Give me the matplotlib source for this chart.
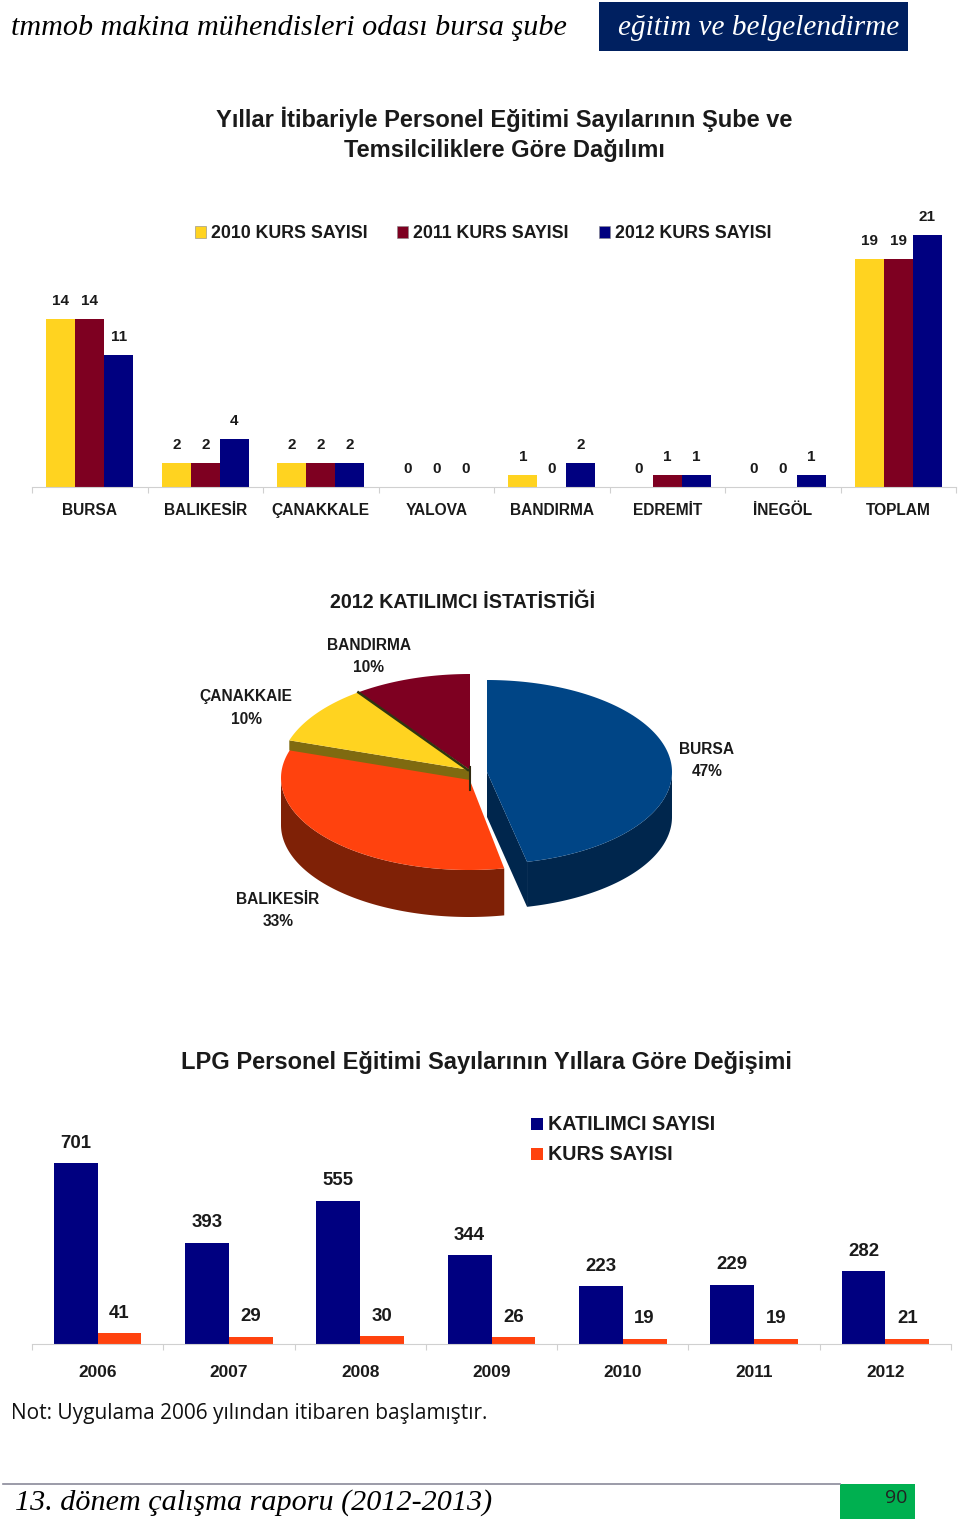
import matplotlib
matplotlib.use("Agg")
import matplotlib.pyplot as plt
import numpy as np

plt.rcParams['font.family'] = ['Liberation Sans', 'DejaVu Sans']

W, H = 960, 1526

# first chart
cities = ["BURSA", "BALIKESİR", "ÇANAKKALE", "YALOVA", "BANDIRMA", "EDREMİT", "İNEGÖL", "TOPLAM"]
kurs_2010 = [14, 2, 2, 0, 1, 0, 0, 19]
kurs_2011 = [14, 2, 2, 0, 0, 1, 0, 19]
kurs_2012 = [11, 4, 2, 0, 2, 1, 1, 21]
legend1 = ["2010 KURS SAYISI", "2011 KURS SAYISI", "2012 KURS SAYISI"]

# pie
pie_names = ["BURSA", "BALIKESİR", "ÇANAKKAIE", "BANDIRMA"]
pie_values = [47, 33, 10, 10]

# last chart
years = ["2006", "2007", "2008", "2009", "2010", "2011", "2012"]
katilimci = [701, 393, 555, 344, 223, 229, 282]
kurs = [41, 29, 30, 26, 19, 19, 21]

YELLOW = "#FFD320"
MAROON = "#7E0021"
NAVY = "#000080"
ORANGE = "#FF420E"
BLUE = "#004586"


def make_axes(left, right, top, bottom):
    # axes from pixel positions of the page
    return fig.add_axes([left / W, 1 - bottom / H, (right - left) / W, (bottom - top) / H])


def style_bar_axes(ax, labels, size, pad):
    n = len(labels)
    ax.set_xlim(-0.5, n - 0.5)
    ax.set_xticks(np.arange(n), labels, fontsize=size, fontweight="bold", color="#1a1a1a")
    ax.tick_params(axis="x", which="major", length=0, pad=pad)
    ax.set_xticks(np.arange(n + 1) - 0.5, minor=True)
    ax.tick_params(axis="x", which="minor", length=4, width=0.8, color="#d0d0d0")
    ax.set_yticks([])
    ax.patch.set_alpha(0)
    for s in ["top", "left", "right"]:
        ax.spines[s].set_visible(False)
    ax.spines["bottom"].set_color("#d0d0d0")


def bar_labels(ax, xs, vals, size, off):
    for x, v in zip(xs, vals):
        ax.annotate(str(v), (x, v), xytext=(0, off), textcoords="offset points",
                    ha="center", va="center", fontsize=size, fontweight="bold", color="#1a1a1a")


fig = plt.figure(figsize=(W / 100, H / 100), dpi=100, facecolor="white")

# page layer in pixel coordinates
page = fig.add_axes([0, 0, 1, 1])
page.set_xlim(0, W)
page.set_ylim(H, 0)
page.axis("off")

# header and footer
page.text(11, 28, "tmmob makina mühendisleri odası bursa şube", family="Liberation Serif",
          style="italic", fontsize=21.7, color="black", va="center")
page.add_patch(plt.Rectangle((599, 2), 309, 49, color="#002060", lw=0))
page.text(618, 28, "eğitim ve belgelendirme", family="Liberation Serif", style="italic",
          fontsize=21.1, color="white", va="center")
page.plot([3, 840], [1484, 1484], color="#8a8a9a", lw=1.2)
page.add_patch(plt.Rectangle((840, 1484), 75, 35, color="#00B050", lw=0))
page.text(896, 1498, "90", family="Open Sans", fontsize=14, color="#222222", ha="center", va="center")
page.text(15, 1503, "13. dönem çalışma raporu (2012-2013)", family="Liberation Serif", style="italic",
          fontsize=21.7, color="black", va="center")
page.text(11, 1414, "Not: Uygulama 2006 yılından itibaren başlamıştır.", family="Open Sans",
          fontsize=15, color="#111111", va="center")

# titles
page.text(504, 119, "Yıllar İtibariyle Personel Eğitimi Sayılarının Şube ve", fontsize=17,
          fontweight="bold", ha="center", va="center", color="#1a1a1a")
page.text(504, 150.5, "Temsilciliklere Göre Dağılımı", fontsize=17,
          fontweight="bold", ha="center", va="center", color="#1a1a1a")
page.text(463, 602, "2012 KATILIMCI İSTATİSTİĞİ", fontsize=14.2, fontweight="bold",
          ha="center", va="center", color="#1a1a1a")
page.text(486, 1062, "LPG Personel Eğitimi Sayılarının Yıllara Göre Değişimi", fontsize=17,
          fontweight="bold", ha="center", va="center", color="#1a1a1a")

# first bar chart
ax1 = make_axes(32, 956, 200, 487)
x = np.arange(len(cities))
bw = 0.25
ax1.bar(x - bw, kurs_2010, bw, color=YELLOW)
ax1.bar(x, kurs_2011, bw, color=MAROON)
ax1.bar(x + bw, kurs_2012, bw, color=NAVY)
ax1.set_ylim(0, 287 / 12)
style_bar_axes(ax1, cities, 11.2, 11.7)
for xs, vals in [(x - bw, kurs_2010), (x, kurs_2011), (x + bw, kurs_2012)]:
    bar_labels(ax1, xs, vals, 11, 13)

for lx, tx, col, name in zip([195, 397, 599], [211, 413, 615], [YELLOW, MAROON, NAVY], legend1):
    page.add_patch(plt.Rectangle((lx, 226), 11, 12, facecolor=col, edgecolor="#888888", lw=0.4))
    page.text(tx, 233.5, name, fontsize=12.8, fontweight="bold", va="center", color="#1a1a1a")


# pie, drawn by hand because of the 3D look
def arc(cx, cy, a, b, start, end):
    t = np.radians(np.linspace(start, end, 120))
    return cx + a * np.sin(t), cy - b * np.cos(t)


def wedge_top(cx, cy, a, b, start, end, col, z):
    xs, ys = arc(cx, cy, a, b, start, end)
    page.fill(np.r_[cx, xs], np.r_[cy, ys], color=col, lw=0, zorder=z)


def side_wall(cx, cy, a, b, start, end, depth, col, z):
    xs, ys = arc(cx, cy, a, b, start, end)
    page.fill(np.r_[xs, xs[::-1]], np.r_[ys, ys[::-1] + depth], color=col, lw=0, zorder=z)


shares = np.cumsum(pie_values) / np.sum(pie_values) * 360
a_bursa, a_bal, a_can, a_ban = shares
# the slice looks a bit narrower in the perspective of the original
a_tip = a_bursa - 1.7

# balikesir
side_wall(469, 778, 188, 92, a_bursa, 270, 47, "#7F2106", 2)
wedge_top(469, 778, 188, 92, a_bursa, a_bal, ORANGE, 3)
# canakkale with its short wall
xs, ys = arc(470, 770, 190, 96, a_bal, a_bal)
page.fill([470, xs[0], xs[0], 470], [770, ys[0], ys[0] + 10, 780], color="#7F6A10", lw=0, zorder=4)
wedge_top(470, 770, 190, 96, a_bal, a_can, YELLOW, 5)
# bandirma
wedge_top(470, 770, 190, 96, a_can, a_ban, MAROON, 5)
xs, ys = arc(470, 770, 190, 96, a_can, a_can)
page.plot([468, xs[0]], [770, ys[0]], color="#2f3510", lw=1.8, zorder=6)
page.plot([470, 470], [767, 790], color="#2f2a10", lw=1.5, zorder=6)
# bursa, pulled out to the right
xs, ys = arc(487, 772, 185, 92, a_tip, a_tip)
page.fill([487, xs[0], xs[0], 487], [772, ys[0], ys[0] + 45, 817], color="#00264D", lw=0, zorder=7)
side_wall(487, 772, 185, 92, 90, a_tip, 45, "#00264D", 7)
wedge_top(487, 772, 185, 92, 0, a_tip, BLUE, 8)

for name, val, lx, ly in zip(pie_names, pie_values, [707, 278, 246, 369], [749, 899, 697, 645]):
    page.text(lx, ly, name, fontsize=11.2, fontweight="bold", ha="center", va="center", color="#1a1a1a")
    page.text(lx, ly + 22, f"{val}%", fontsize=11.2, fontweight="bold", ha="center", va="center", color="#1a1a1a")

# last bar chart
ax3 = make_axes(32, 951, 1090, 1344)
x3 = np.arange(len(years))
bw3 = 1 / 3
ax3.bar(x3 - bw3 / 2, katilimci, bw3, color=NAVY)
ax3.bar(x3 + bw3 / 2, kurs, bw3, color=ORANGE)
ax3.set_ylim(0, 254 / 0.258)
style_bar_axes(ax3, years, 12.4, 15)
bar_labels(ax3, x3 - bw3 / 2, katilimci, 13.4, 14.5)
bar_labels(ax3, x3 + bw3 / 2, kurs, 13.4, 14.5)

page.add_patch(plt.Rectangle((531, 1118), 12, 12, color=NAVY, lw=0))
page.text(548, 1124.5, "KATILIMCI SAYISI", fontsize=14.2, fontweight="bold", va="center", color="#1a1a1a")
page.add_patch(plt.Rectangle((531, 1148), 12, 12, color=ORANGE, lw=0))
page.text(548, 1154.5, "KURS SAYISI", fontsize=14.2, fontweight="bold", va="center", color="#1a1a1a")

fig.savefig("out.png", dpi=100)
